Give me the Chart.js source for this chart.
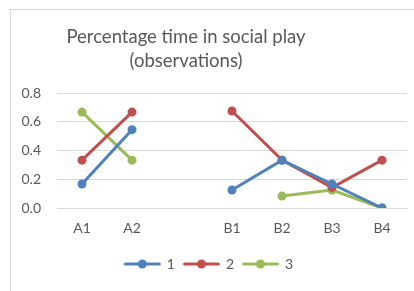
<!DOCTYPE html>
<html>
<head>
<meta charset="utf-8">
<script src="https://cdn.jsdelivr.net/npm/chart.js@4"></script>
<style>
html, body { margin: 0; padding: 0; background: #fff; overflow: hidden; }
#box { position: absolute; left: 10px; top: 9px; width: 403px; height: 281px; border: 1px solid #d9d9d9; }
</style>
</head>
<body>
<div id="box"><canvas id="myChart"></canvas></div>
<script>
const CATEGORIES = ['A1', 'A2', '', 'B1', 'B2', 'B3', 'B4'];
const SERIES_1 = [0.167, 0.545, null, 0.125, 0.333, 0.167, 0];
const SERIES_2 = [0.333, 0.667, null, 0.675, 0.333, 0.143, 0.333];
const SERIES_3 = [0.667, 0.333, null, null, 0.083, 0.125, 0];
const SERIES_NAMES = ['1', '2', '3'];
const TITLE_LINES = ['Percentage time in social play', '(observations)'];

const COLORS = ['#4F81BD', '#C0504D', '#9BBB59'];
const FONT = 'Lato';
const TEXT = '#595959';
const GRID = '#d9d9d9';

// line + dot image for legend entries
function legendMark(color) {
    const c = document.createElement('canvas');
    c.width = 38; c.height = 10;
    const g = c.getContext('2d');
    g.strokeStyle = color; g.lineWidth = 3; g.lineCap = 'round';
    g.beginPath(); g.moveTo(2, 5); g.lineTo(36, 5); g.stroke();
    g.fillStyle = color;
    g.beginPath(); g.arc(19, 5, 4.5, 0, Math.PI * 2); g.fill();
    return c;
}
const MARKS = COLORS.map(legendMark);

const titlePlugin = {
    id: 'sketchTitle',
    afterDraw(chart) {
        const ctx = chart.ctx;
        ctx.save();
        ctx.font = '18.5px ' + FONT;
        ctx.fillStyle = TEXT;
        ctx.textAlign = 'center';
        ctx.textBaseline = 'middle';
        TITLE_LINES.forEach((t, i) => ctx.fillText(t, 175, 27 + i * 24));
        ctx.restore();
    }
};

function ds(name, data, color) {
    return {
        label: name,
        data: data,
        borderColor: color,
        backgroundColor: color,
        borderWidth: 3,
        pointRadius: 4.5,
        pointHoverRadius: 4.5,
        pointBorderWidth: 0,
        spanGaps: false,
        tension: 0
    };
}

const ctx_1 = document.getElementById('myChart');

window.myChart = new Chart(ctx_1, {
    type: 'line',
    data: {
        labels: CATEGORIES,
        datasets: [
            ds(SERIES_NAMES[0], SERIES_1, COLORS[0]),
            ds(SERIES_NAMES[1], SERIES_2, COLORS[1]),
            ds(SERIES_NAMES[2], SERIES_3, COLORS[2])
        ]
    },
    options: {
        responsive: true,
        maintainAspectRatio: false,
        animation: false,
        layout: { padding: { top: 83, right: 7, bottom: 10, left: 0 } },
        plugins: {
            title: { display: false },
            tooltip: { enabled: false },
            legend: {
                position: 'bottom',
                labels: {
                    usePointStyle: true,
                    pointStyleWidth: 35,
                    padding: 9,
                    color: TEXT,
                    font: { family: FONT, size: 14 },
                    generateLabels(chart) {
                        const items = Chart.defaults.plugins.legend.labels.generateLabels(chart);
                        items.forEach((it, i) => { it.pointStyle = MARKS[i]; });
                        return items;
                    }
                }
            }
        },
        scales: {
            x: {
                offset: true,
                grid: { display: false, drawTicks: false },
                border: { display: true, color: GRID, width: 1 },
                ticks: { color: TEXT, font: { family: FONT, size: 14 }, padding: 12 },
                afterFit(scale) { scale.height = 40; }
            },
            y: {
                min: 0,
                max: 0.8,
                grid: { color: GRID, drawTicks: false },
                border: { display: false },
                ticks: {
                    stepSize: 0.2,
                    color: TEXT,
                    font: { family: FONT, size: 14 },
                    padding: 16,
                    callback: v => v.toFixed(1)
                },
                afterFit(scale) { scale.width = 46; }
            }
        }
    },
    plugins: [titlePlugin]
});
</script>
</body>
</html>
